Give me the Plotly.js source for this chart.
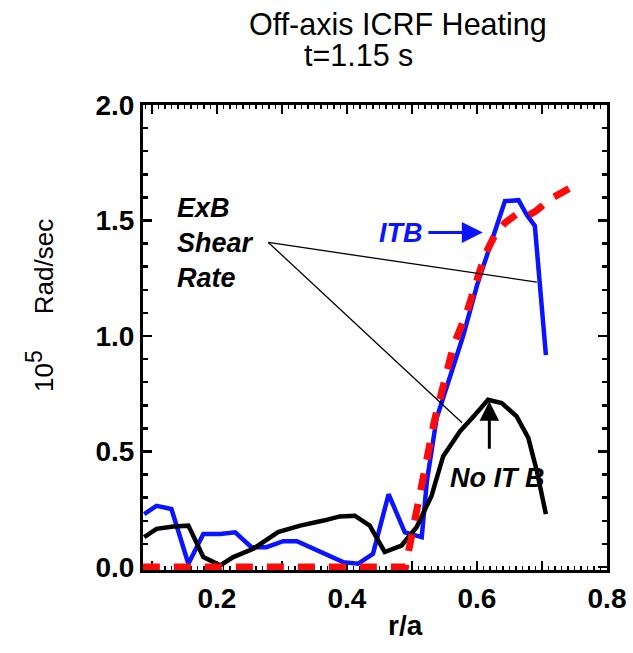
<!DOCTYPE html>
<html>
<head>
<meta charset="utf-8">
<script src="https://cdn.plot.ly/plotly-3.0.1.min.js"></script>
<style>html,body{margin:0;padding:0;background:#fff;}#chart{width:633px;height:653px;}</style>
</head>
<body>
<div id="chart"></div>
<script>
// ---- data ----
var itbR = [0.088,0.107,0.130,0.156,0.179,0.205,0.228,0.253,0.276,0.302,0.323,0.348,0.369,0.394,0.417,0.440,0.464,0.489,0.515,0.523,0.538,0.558,0.579,0.600,0.620,0.643,0.664,0.676,0.689,0.706];
var itbRate = [0.229,0.265,0.251,0.014,0.143,0.143,0.150,0.086,0.086,0.112,0.112,0.079,0.050,0.021,0.014,0.057,0.315,0.150,0.129,0.373,0.645,0.817,1.003,1.219,1.390,1.584,1.588,1.527,1.477,0.917];

var noItbR = [0.088,0.107,0.133,0.156,0.179,0.205,0.225,0.256,0.294,0.328,0.364,0.389,0.412,0.435,0.458,0.484,0.507,0.530,0.548,0.574,0.597,0.617,0.638,0.661,0.679,0.692,0.706];
var noItbRate = [0.129,0.165,0.175,0.179,0.043,0.007,0.043,0.079,0.151,0.179,0.201,0.219,0.222,0.179,0.065,0.093,0.172,0.308,0.480,0.588,0.659,0.724,0.710,0.652,0.559,0.416,0.229];

var fitR = [0.086,0.490,0.535,0.564,0.584,0.600,0.612,0.628,0.643,0.660,0.675,0.690,0.717,0.756];
var fitRate = [0.0,0.0,0.640,0.960,1.100,1.250,1.350,1.440,1.490,1.525,1.515,1.540,1.600,1.660];

// x major ticks every 0.1, labels only on even tenths
var xHiddenLabels = {'0.1': ' ', '0.3': ' ', '0.5': ' ', '0.7': ' '};

var titleLine1 = 'Off-axis ICRF Heating';
var titleLine2 = 't=1.15 s';
var xTitle = 'r/a';
var yTitle = '10<sup><span style="font-size:23px">5</span></sup>&nbsp;&nbsp;&nbsp;&nbsp;&nbsp;Rad/sec';

var xRange = [0.0862, 0.8];
var yRange = [-0.013, 2.0];

// ---- traces ----
var blue = '#0a14ff';
var traces = [
  {x: itbR, y: itbRate, mode: 'lines', line: {color: blue, width: 4.5}, hoverinfo: 'skip'},
  {x: noItbR, y: noItbRate, mode: 'lines', line: {color: '#000000', width: 4.5}, hoverinfo: 'skip'},
  {x: fitR, y: fitRate, mode: 'lines', line: {color: '#ff0a0a', width: 7, dash: '17px,14px'}, hoverinfo: 'skip'}
];

var F = 'Arial, "Liberation Sans", Helvetica, sans-serif';

var axisCommon = {
  showline: true, linecolor: '#000', linewidth: 3, mirror: 'allticks',
  ticks: 'inside', ticklen: 9, tickwidth: 2.5, tickcolor: '#000',
  showgrid: false, zeroline: false, layer: 'below traces',
  tickfont: {family: F, size: 28, color: '#000', weight: 'bold'}
};

var layout = {
  width: 633, height: 653,
  margin: {l: 143, r: 26, t: 105, b: 83, pad: 0},
  paper_bgcolor: '#fff', plot_bgcolor: '#fff',
  showlegend: false,
  xaxis: Object.assign({}, axisCommon, {
    range: xRange, tickmode: 'linear', tick0: 0, dtick: 0.1, tickformat: '.1f',
    labelalias: xHiddenLabels, ticklabelstandoff: 1,
    minor: {tickmode: 'linear', tick0: 0, dtick: 0.01, ticks: 'inside', ticklen: 4, tickwidth: 1.5, tickcolor: '#000', showgrid: false}
  }),
  yaxis: Object.assign({}, axisCommon, {
    range: yRange, tickmode: 'linear', tick0: 0, dtick: 0.5, tickformat: '.1f',
    ticklabelstandoff: 0,
    minor: {tickmode: 'linear', tick0: 0, dtick: 0.1, ticks: 'inside', ticklen: 5, tickwidth: 2.5, tickcolor: '#000', showgrid: false}
  }),
  shapes: [
    {type: 'line', xref: 'x', yref: 'y', x0: 0.279, y0: 1.405, x1: 0.692, y1: 1.233, line: {color: '#000', width: 1.3}},
    {type: 'line', xref: 'x', yref: 'y', x0: 0.279, y0: 1.405, x1: 0.577, y1: 0.624, line: {color: '#000', width: 1.3}}
  ],
  annotations: [
    {xref: 'paper', yref: 'paper', x: (398-143)/464, y: (570-24)/465, xanchor: 'center', yanchor: 'middle', showarrow: false,
     text: titleLine1, font: {family: F, size: 30.5, color: '#000'}},
    {xref: 'paper', yref: 'paper', x: (358-143)/464, y: (570-55)/465, xanchor: 'center', yanchor: 'middle', showarrow: false,
     text: titleLine2, font: {family: F, size: 30.5, color: '#000'}},
    {xref: 'paper', yref: 'paper', x: (405-143)/464, y: (570-625)/465, xanchor: 'center', yanchor: 'middle', showarrow: false,
     text: xTitle, font: {family: F, size: 28, color: '#000', weight: 'bold'}},
    {xref: 'paper', yref: 'paper', x: (40-143)/464, y: (570-306)/465, xanchor: 'center', yanchor: 'middle', showarrow: false,
     textangle: -90, text: yTitle, font: {family: F, size: 26, color: '#000'}},
    {xref: 'x', yref: 'y', x: 0.1354, y: 1.402, xanchor: 'left', yanchor: 'middle', showarrow: false, align: 'left',
     text: '<b><i>ExB<br>Shear<br>Rate</i></b>', font: {family: F, size: 27, color: '#000'}},
    {xref: 'x', yref: 'y', x: 0.609, y: 1.448, ax: -82, ay: 0, showarrow: true, arrowhead: 2, arrowsize: 1.4, arrowwidth: 3,
     arrowcolor: blue, startstandoff: 4,
     text: '<b><i>ITB</i></b>', font: {family: F, size: 27, color: blue}},
    {xref: 'x', yref: 'y', x: 0.632, y: 0.387, showarrow: false,
     text: '<b><i>No IT B</i></b>', font: {family: F, size: 27, color: '#000'}},
    {xref: 'x', yref: 'y', x: 0.619, y: 0.717, ax: 0, ay: 49, showarrow: true, arrowhead: 2, arrowsize: 1.3, arrowwidth: 3,
     arrowcolor: '#000', text: ''}
  ]
};

Plotly.newPlot('chart', traces, layout, {displayModeBar: false, staticPlot: true});
</script>
</body>
</html>
